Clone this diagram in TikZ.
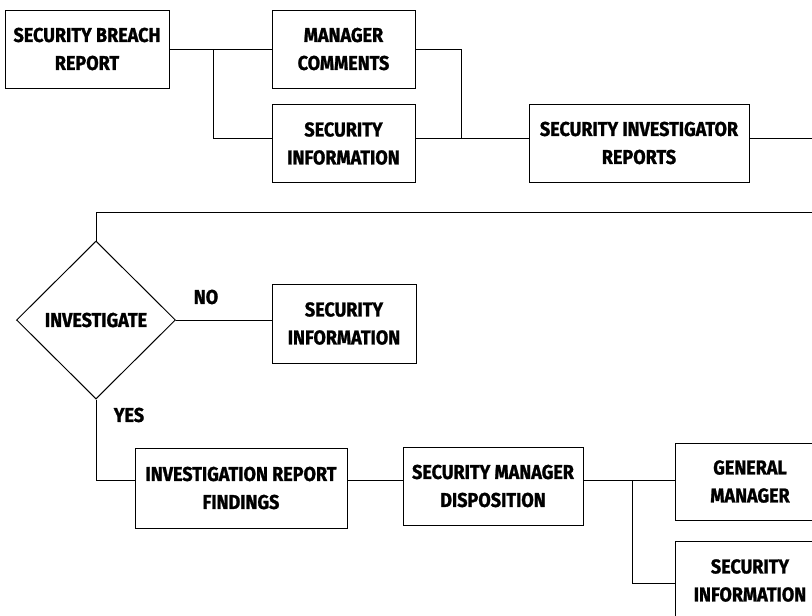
\documentclass[tikz,border=0pt]{standalone}
\usepackage{fontspec}
\setmainfont{Fira Sans}[FakeStretch=0.9, BoldFeatures={FakeBold=1.2}]
\usetikzlibrary{shapes.geometric}
\begin{document}
\begin{tikzpicture}[x=1pt,y=-1pt,
  lbl/.style={font=\bfseries\fontsize{20}{28}\selectfont, align=center, inner sep=0pt},
  box/.style={lbl, draw, line width=1pt, minimum width=#1, minimum height=78pt},
  dec/.style={lbl, draw, shape=diamond, line width=1pt, minimum width=159pt, minimum height=158pt},
  wire/.style={line width=1pt}]
\useasboundingbox (0,0) rectangle (812,616);
\clip (0,0) rectangle (812,616);
\fill[white] (0,0) rectangle (812,616);
% top row
\node[box=164pt] (sbr) at (87,49) {SECURITY BREACH\\REPORT};
\node[box=143pt] (mc) at (343.5,49) {MANAGER\\COMMENTS};
\node[box=143pt] (si1) at (343.5,143.5) {SECURITY\\INFORMATION};
\node[box=220pt] (sir) at (639,143) {SECURITY INVESTIGATOR\\REPORTS};
% decision
\node[dec] (inv) at (96,320) {INVESTIGATE};
\node[lbl] (no) at (206,297) {NO};
\node[box=144pt, minimum height=79pt] (si2) at (344,323.5) {SECURITY\\INFORMATION};
\node[lbl] (yes) at (129,415) {YES};
% bottom row
\node[box=212pt, minimum height=80pt] (irf) at (241,488) {INVESTIGATION REPORT\\FINDINGS};
\node[box=180pt] (smd) at (493,486) {SECURITY MANAGER\\DISPOSITION};
\node[box=150pt, minimum height=77pt] (gm) at (750,481.5) {GENERAL\\MANAGER};
\node[box=150pt, minimum height=79pt] (si3) at (750,580.5) {SECURITY\\INFORMATION};
% coordinates
\coordinate (j1) at (213,49);
\coordinate (j2) at (461,138);
\coordinate (e1) at (812,138);
\coordinate (e2) at (812,212);
\coordinate (c1) at (96,212);
\coordinate (c2) at (96,480);
\coordinate (j3) at (632,480);
% connectors
\draw[wire] (sbr.east) -- (mc.west);
\draw[wire] (j1) |- (si1.west |- j2);
\draw[wire] (mc.east) -| (j2);
\draw[wire] (si1.east |- j2) -- (sir.west |- j2);
\draw[wire] (sir.east |- e1) -- (e1);
\draw[wire] (e2) -- (c1) -- (inv.north);
\draw[wire] (inv.east) -- (si2.west |- inv.east);
\draw[wire] (inv.south) -- (c2) -- (irf.west |- c2);
\draw[wire] (irf.east |- c2) -- (smd.west |- c2);
\draw[wire] (smd.east |- c2) -- (gm.west |- c2);
\draw[wire] (j3) |- (si3.west |- 0,583);
\end{tikzpicture}
\end{document}
